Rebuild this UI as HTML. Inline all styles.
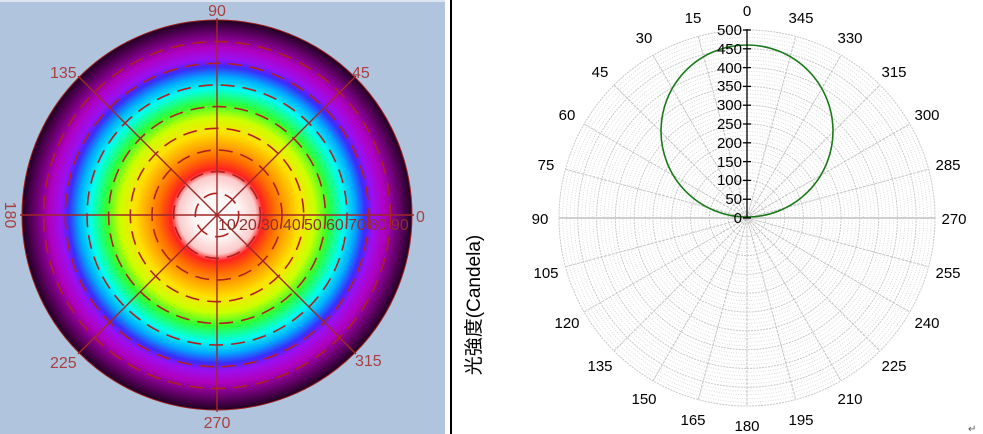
<!DOCTYPE html>
<html><head><meta charset="utf-8"><style>
html,body{margin:0;padding:0;background:#fff;}
svg{display:block;}
</style></head><body>
<svg width="983" height="434" viewBox="0 0 983 434" xmlns="http://www.w3.org/2000/svg">
<defs>
<radialGradient id="rg" cx="217" cy="215" r="195" gradientUnits="userSpaceOnUse">
<stop offset="0" stop-color="#ffffff"/>
<stop offset="0.12" stop-color="#fff4f4"/>
<stop offset="0.2" stop-color="#fbcaca"/>
<stop offset="0.235" stop-color="#ff2020"/>
<stop offset="0.3" stop-color="#ff7000"/>
<stop offset="0.42" stop-color="#ffe000"/>
<stop offset="0.5" stop-color="#ccff00"/>
<stop offset="0.57" stop-color="#30ff30"/>
<stop offset="0.65" stop-color="#00ffee"/>
<stop offset="0.71" stop-color="#00a8ff"/>
<stop offset="0.76" stop-color="#3a2cff"/>
<stop offset="0.8" stop-color="#9a10f0"/>
<stop offset="0.86" stop-color="#b000c0"/>
<stop offset="0.93" stop-color="#6a0070"/>
<stop offset="1" stop-color="#200020"/>
</radialGradient>
</defs>
<rect x="0" y="0" width="446" height="434" fill="#b0c4de"/>
<rect x="0" y="0" width="446" height="2" fill="#dde6f0"/>
<rect x="445" y="0" width="5" height="434" fill="#ffffff"/>
<rect x="450" y="0" width="2" height="434" fill="#000"/>
<circle cx="217" cy="215" r="195" fill="url(#rg)"/>
<g stroke="#b02020" stroke-width="1.6" fill="none" stroke-dasharray="14 8">
<circle cx="217" cy="215" r="21.7"/><circle cx="217" cy="215" r="43.4"/><circle cx="217" cy="215" r="65"/>
<circle cx="217" cy="215" r="86.7"/><circle cx="217" cy="215" r="108.4"/><circle cx="217" cy="215" r="130"/>
<circle cx="217" cy="215" r="151.7"/><circle cx="217" cy="215" r="173.4"/>
</g>
<circle cx="217" cy="215" r="195" fill="none" stroke="#a02020" stroke-width="1"/>
<g stroke="#a02828" stroke-width="1.4">
<line x1="217" y1="18" x2="217" y2="412"/>
<line x1="20" y1="215" x2="414" y2="215"/>
<line x1="78" y1="76" x2="356" y2="354"/>
<line x1="356" y1="76" x2="78" y2="354"/>
</g>
<g font-family="Liberation Sans, sans-serif" font-size="16" fill="#a84040">
<text x="217" y="16" text-anchor="middle">90</text>
<text x="217" y="428" text-anchor="middle">270</text>
<text x="416" y="222">0</text>
<text x="352" y="78">45</text>
<text x="50" y="78">135</text>
<text x="50" y="368">225</text>
<text x="355" y="366">315</text>
<text transform="translate(5,215) rotate(90)" text-anchor="middle">180</text>
<g font-size="16" fill="#8a3030">
<text x="218" y="230">10</text><text x="239" y="230">20</text><text x="261" y="230">30</text>
<text x="283" y="230">40</text><text x="304" y="230">50</text><text x="326" y="230">60</text>
<text x="348" y="230">70</text><text x="369" y="230">80</text><text x="391" y="230">90</text>
</g>
</g>
<text transform="translate(480,305) rotate(-90)" text-anchor="middle" font-family="Liberation Sans, 'Noto Sans CJK TC', sans-serif" font-size="19" fill="#000">光強度(Candela)</text>
<g id="polar">
<g fill="none" stroke="#d4d4d4" stroke-width="0.8" stroke-dasharray="1 1.5">
<circle cx="747" cy="218" r="3.76"/><circle cx="747" cy="218" r="7.52"/><circle cx="747" cy="218" r="11.28"/><circle cx="747" cy="218" r="15.04"/>
<circle cx="747" cy="218" r="22.56"/><circle cx="747" cy="218" r="26.32"/><circle cx="747" cy="218" r="30.08"/><circle cx="747" cy="218" r="33.84"/>
<circle cx="747" cy="218" r="41.36"/><circle cx="747" cy="218" r="45.12"/><circle cx="747" cy="218" r="48.88"/><circle cx="747" cy="218" r="52.64"/>
<circle cx="747" cy="218" r="60.16"/><circle cx="747" cy="218" r="63.92"/><circle cx="747" cy="218" r="67.68"/><circle cx="747" cy="218" r="71.44"/>
<circle cx="747" cy="218" r="78.96"/><circle cx="747" cy="218" r="82.72"/><circle cx="747" cy="218" r="86.48"/><circle cx="747" cy="218" r="90.24"/>
<circle cx="747" cy="218" r="97.76"/><circle cx="747" cy="218" r="101.52"/><circle cx="747" cy="218" r="105.28"/><circle cx="747" cy="218" r="109.04"/>
<circle cx="747" cy="218" r="116.56"/><circle cx="747" cy="218" r="120.32"/><circle cx="747" cy="218" r="124.08"/><circle cx="747" cy="218" r="127.84"/>
<circle cx="747" cy="218" r="135.36"/><circle cx="747" cy="218" r="139.12"/><circle cx="747" cy="218" r="142.88"/><circle cx="747" cy="218" r="146.64"/>
<circle cx="747" cy="218" r="154.16"/><circle cx="747" cy="218" r="157.92"/><circle cx="747" cy="218" r="161.68"/><circle cx="747" cy="218" r="165.44"/>
<circle cx="747" cy="218" r="172.96"/><circle cx="747" cy="218" r="176.72"/><circle cx="747" cy="218" r="180.48"/><circle cx="747" cy="218" r="184.24"/>
</g>
<g fill="none" stroke="#c8c8c8" stroke-width="1" stroke-dasharray="2 1">
<circle cx="747" cy="218" r="18.8"/><circle cx="747" cy="218" r="37.6"/><circle cx="747" cy="218" r="56.4"/><circle cx="747" cy="218" r="75.2"/>
<circle cx="747" cy="218" r="94"/><circle cx="747" cy="218" r="112.8"/><circle cx="747" cy="218" r="131.6"/><circle cx="747" cy="218" r="150.4"/>
<circle cx="747" cy="218" r="169.2"/><circle cx="747" cy="218" r="188"/>
</g>
<g stroke="#c4c4c4" stroke-width="1" stroke-dasharray="3 1">
<line x1="747" y1="30" x2="747" y2="406"/>
<line x1="559" y1="218" x2="935" y2="218" stroke-dasharray="none" stroke="#cfcfcf" stroke-width="2"/>
<line x1="698.3" y1="36.4" x2="795.7" y2="399.6"/>
<line x1="653" y1="55.2" x2="841" y2="380.8"/>
<line x1="614" y1="85" x2="880" y2="351"/>
<line x1="584.2" y1="124" x2="909.8" y2="312"/>
<line x1="565.4" y1="169.3" x2="928.6" y2="266.7"/>
<line x1="565.4" y1="266.7" x2="928.6" y2="169.3"/>
<line x1="584.2" y1="312" x2="909.8" y2="124"/>
<line x1="614" y1="351" x2="880" y2="85"/>
<line x1="653" y1="380.8" x2="841" y2="55.2"/>
<line x1="698.3" y1="399.6" x2="795.7" y2="36.4"/>
</g>
<circle cx="747" cy="131" r="86" fill="none" stroke="#1a7a1a" stroke-width="1.6"/>
<g stroke="#000" stroke-width="1.3">
<line x1="747" y1="29" x2="747" y2="218"/>
<line x1="743" y1="30" x2="751" y2="30"/><line x1="743" y1="48.8" x2="751" y2="48.8"/>
<line x1="743" y1="67.6" x2="751" y2="67.6"/><line x1="743" y1="86.4" x2="751" y2="86.4"/>
<line x1="743" y1="105.2" x2="751" y2="105.2"/><line x1="743" y1="124" x2="751" y2="124"/>
<line x1="743" y1="142.8" x2="751" y2="142.8"/><line x1="743" y1="161.6" x2="751" y2="161.6"/>
<line x1="743" y1="180.4" x2="751" y2="180.4"/><line x1="743" y1="199.2" x2="751" y2="199.2"/>
<line x1="743" y1="218" x2="751" y2="218"/>
</g>
<g font-family="Liberation Sans, sans-serif" font-size="15" fill="#000" text-anchor="end">
<text x="742" y="35">500</text><text x="742" y="54">450</text><text x="742" y="73">400</text>
<text x="742" y="91">350</text><text x="742" y="110">300</text><text x="742" y="129">250</text>
<text x="742" y="148">200</text><text x="742" y="167">150</text><text x="742" y="185">100</text>
<text x="742" y="204">50</text><text x="742" y="223">0</text>
</g>
<g font-family="Liberation Sans, sans-serif" font-size="15" fill="#000" text-anchor="middle">
<text x="747" y="16">0</text><text x="693" y="23">15</text><text x="644" y="43">30</text>
<text x="600" y="77">45</text><text x="567" y="120">60</text><text x="546" y="170">75</text>
<text x="540" y="224">90</text><text x="546" y="278">105</text><text x="567" y="328">120</text>
<text x="600" y="371">135</text><text x="644" y="404">150</text><text x="693" y="425">165</text>
<text x="747" y="431">180</text><text x="801" y="425">195</text><text x="850" y="404">210</text>
<text x="894" y="371">225</text><text x="927" y="328">240</text><text x="948" y="278">255</text>
<text x="954" y="224">270</text><text x="948" y="170">285</text><text x="927" y="120">300</text>
<text x="894" y="77">315</text><text x="850" y="43">330</text><text x="801" y="23">345</text>
</g>
</g>
<text x="968" y="432" font-family="Liberation Sans, sans-serif" font-size="10" fill="#555">↵</text>
</svg>
</body></html>
